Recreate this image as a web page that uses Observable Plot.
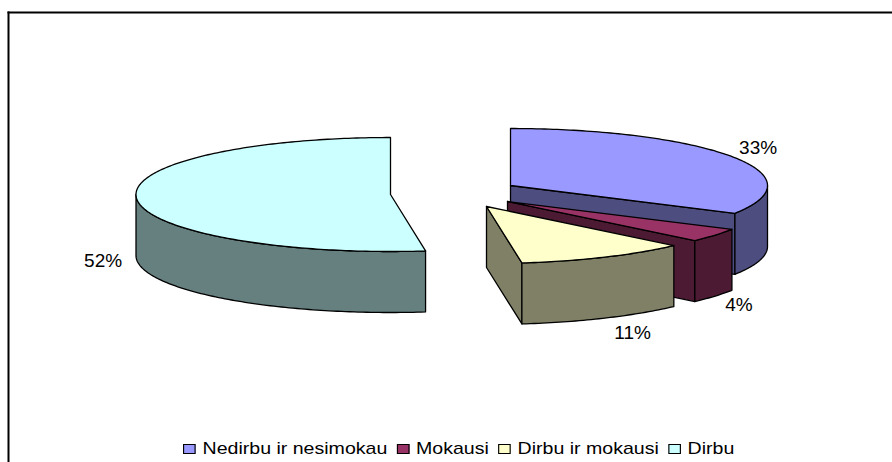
<!DOCTYPE html>
<html><head><meta charset="utf-8">
<script src="https://cdn.jsdelivr.net/npm/d3@7"></script>
<script src="https://cdn.jsdelivr.net/npm/@observablehq/plot@0.6"></script>
<style>
html,body{margin:0;padding:0;background:#fff;overflow:hidden}
#chart{position:relative;width:892px;height:462px;overflow:hidden;font-family:"Liberation Sans",Arial,sans-serif}
#chart svg{display:block;position:absolute;left:0;top:0}
#legend{position:absolute;left:183px;top:439px;display:flex;align-items:center;font-size:17px;line-height:20px;color:#000;white-space:nowrap;transform:scaleX(1.15);transform-origin:left center}
#legend span.k{display:inline-block;width:9px;height:8px;border:1px solid #000;margin-right:6px}
#legend span.t{margin-right:8px}
</style></head>
<body><div id="chart"></div>
<script>
const categories = ["Nedirbu ir nesimokau", "Mokausi", "Dirbu ir mokausi", "Dirbu"];
const shares = [33.1, 3.9, 10.8, 52.2];
const topColors = ["#9999FF", "#993366", "#FFFFCC", "#CCFFFF"];
const wallColors = ["#4D4D80", "#4D1A33", "#808066", "#668080"];

// layout of the exploded 3D pie
const centers = [[510, 185], [507, 201], [486, 206], [390, 194]];
const radiiX = [257, 257, 257, 254.5];
const labelOffsets = [[26, -9], [24, 9], [28, 15], [-33.5, 1]];
const ry = 57, depth = 61;

const rim = (s, a, dz = 0) => ({x: s.c[0] + s.rx * Math.sin(a), y: s.c[1] - ry * Math.cos(a) + dz});
const arc = (s, a0, a1, dz = 0) => {
  const n = Math.max(2, Math.ceil(Math.abs(a1 - a0) * 60));
  return d3.range(n + 1).map(i => rim(s, a0 + (a1 - a0) * i / n, dz));
};
const pt = (s, dz = 0) => ({x: s.c[0], y: s.c[1] + dz});
const closed = (pts) => [...pts, pts[0]];

const TAU = 2 * Math.PI;
let cum = 0;
const slices = shares.map((v, i) => {
  const a0 = cum / 100 * TAU; cum += v; const a1 = cum / 100 * TAU;
  return {i, a0, a1, c: centers[i], rx: radiiX[i], mid: (a0 + a1) / 2};
});

const face = (pts, fill) => Plot.line(closed(pts), {x: "x", y: "y", fill, stroke: "#000", strokeWidth: 1.3, curve: "linear", strokeLinejoin: "round"});
const marks = [];
const topFace = (s) => face([pt(s), ...arc(s, s.a0, s.a1)], topColors[s.i]);
const cutWall = (s) => {
  const e = rim(s, s.a1);
  return face([pt(s), e, {x: e.x, y: e.y + depth}, pt(s, depth)], wallColors[s.i]);
};
const outerWall = (s, a0, a1) => face([...arc(s, a0, a1), ...arc(s, a1, a0, depth)], wallColors[s.i]);

// Dirbu (left piece)
marks.push(outerWall(slices[3], slices[3].a0, 1.5 * Math.PI), topFace(slices[3]));
// Nedirbu ir nesimokau
marks.push(cutWall(slices[0]), outerWall(slices[0], Math.PI / 2, slices[0].a1), topFace(slices[0]));
// Mokausi
marks.push(cutWall(slices[1]), outerWall(slices[1], slices[1].a0, slices[1].a1), topFace(slices[1]));
// Dirbu ir mokausi
marks.push(cutWall(slices[2]), outerWall(slices[2], slices[2].a0, slices[2].a1), topFace(slices[2]));

// percentage labels placed from the rim of each slice
const labels = slices.map(s => {
  const p = rim(s, s.mid, s.i === 0 ? 0 : depth);
  return {x: p.x + labelOffsets[s.i][0], y: p.y + labelOffsets[s.i][1], text: Math.round(shares[s.i]) + "%"};
});
marks.push(Plot.text(labels, {x: "x", y: "y", text: "text", fontSize: 19, fill: "#000"}));

// chart area border: only left and top are inside the picture
marks.push(Plot.frame({anchor: "left", stroke: "#000", strokeWidth: 2}));
marks.push(Plot.frame({anchor: "top", stroke: "#000", strokeWidth: 2}));

const plot = Plot.plot({
  width: 892, height: 462,
  marginLeft: 8, marginTop: 12, marginRight: 0, marginBottom: 0,
  x: {domain: [8, 892], axis: null},
  y: {domain: [12, 462], range: [12, 462], axis: null},
  style: {background: "#fff", fontFamily: '"Liberation Sans",Arial,sans-serif'},
  marks
});
const root = document.getElementById("chart");
root.appendChild(plot);

const legend = document.createElement("div");
legend.id = "legend";
categories.forEach((c, i) => {
  const k = document.createElement("span"); k.className = "k"; k.style.background = topColors[i];
  const t = document.createElement("span"); t.className = "t"; t.textContent = c;
  legend.append(k, t);
});
root.appendChild(legend);
</script></body></html>
